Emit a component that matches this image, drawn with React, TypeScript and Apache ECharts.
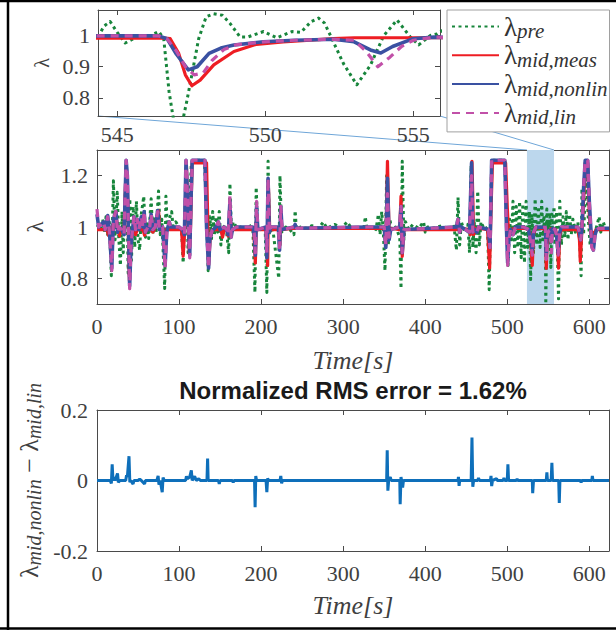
import React, { useEffect, useRef } from "react";
import * as echarts from "echarts";

// ---------- axis ranges and ticks ----------
const TIME_RANGE = [0, 624];
const TIME_TICKS = [0, 100, 200, 300, 400, 500, 600];
const MAIN_Y_RANGE = [0.7, 1.3];
const MAIN_Y_TICKS = [0.8, 1, 1.2];
const INSET_X_RANGE = [544.35, 555.9];
const INSET_X_TICKS = [545, 550, 555];
const INSET_Y_RANGE = [0.742, 1.082];
const INSET_Y_TICKS = [0.8, 0.9, 1];
const ERR_Y_RANGE = [-0.2, 0.2];
const ERR_Y_TICKS = [-0.2, 0, 0.2];
const ZOOM_WINDOW = [524, 557];

const SERIES_NAMES = ["λ_pre", "λ_mid,meas", "λ_mid,nonlin", "λ_mid,lin"];
const TITLE = "Normalized RMS error = 1.62%";
const X_NAME = "Time[s]";

// ---------- data: [time (s), lambda] ----------
const lambdaPre = [
  [0, 1.0], [3, 1.01], [5, 0.99], [7, 1.03], [9, 0.98], [11, 1.04], [13, 0.97], [15, 1.02],
  [17.5, 0.81], [20, 1.18], [22, 0.95], [24.7, 1.135], [26.5, 0.96], [28.5, 0.85], [30.5, 1.06],
  [32, 0.9], [34, 1.09], [36, 1.24], [38, 0.82], [40, 1.11], [42, 0.87], [44, 1.08], [46, 0.92],
  [48, 1.1], [50, 0.95], [52, 0.91], [54, 1.05], [57, 1.12], [59, 0.96], [61, 1.02], [63, 0.955],
  [66, 1.11], [68, 0.97], [70, 1.04], [72, 0.98], [75, 1.14], [77, 0.97], [79, 1.03], [82.5, 0.76],
  [84, 1.12], [86, 0.98], [88, 1.03], [91, 1.06], [93, 0.99], [96, 1.02], [100, 1.0], [103, 0.99],
  [105, 0.86], [107, 1.03], [109, 1.24], [111, 0.9], [113, 1.1], [115, 1.25], [118, 1.26],
  [125, 1.26], [131, 1.26], [133, 1.1], [135.5, 0.83], [137.5, 1.04], [139.5, 0.95], [141, 1.06],
  [143, 0.97], [145, 1.04], [147, 0.98], [149, 1.06], [151, 0.93], [153, 0.99], [156, 1.01],
  [158, 0.98], [160.5, 0.9], [162, 1.17], [164, 0.97], [166, 1.02], [170, 1.0], [175, 1.0],
  [180, 0.99], [185, 1.01], [190, 0.99], [192.5, 0.745], [194, 1.155], [196, 0.98], [200, 1.0],
  [205, 0.99], [207, 0.745], [208.5, 1.256], [210, 0.97], [214, 1.0], [221.5, 0.8], [223, 1.2],
  [225, 0.98], [230, 1.0], [235, 0.99], [240, 0.97], [241.5, 1.064], [243, 0.99], [248, 1.0],
  [255, 0.995], [262, 1.005], [270, 0.995], [276, 1.02], [280, 0.995], [290, 1.01], [298, 0.995],
  [305, 1.02], [310, 0.995], [318, 1.0], [325, 0.99], [327, 1.04], [329, 0.99], [335, 1.0],
  [340, 0.99], [343, 1.05], [345, 0.97], [347, 1.06], [349, 0.98], [351, 0.83], [353, 1.2],
  [355, 0.93], [357, 1.03], [359, 0.99], [364, 1.0], [369, 0.96], [370.5, 0.76], [372, 1.256],
  [374, 0.95], [376, 1.02], [380, 0.99], [385, 1.01], [392, 0.995], [398, 1.02], [400, 0.98],
  [403, 1.0], [410, 0.995], [420, 1.005], [430, 0.99], [435, 1.01], [438, 0.91], [440, 1.115],
  [442, 0.93], [444, 1.02], [447, 0.99], [452, 1.01], [454, 0.9], [456, 1.24], [458, 0.92],
  [460, 1.02], [462, 0.9], [464, 1.14], [466, 0.93], [468, 1.02], [472, 0.99], [476, 1.0],
  [478, 0.756], [481, 1.25], [483, 1.26], [497, 1.26], [499, 1.05], [501, 0.85], [503, 1.03],
  [505, 0.95], [507, 1.1], [509, 0.9], [511, 1.08], [513, 0.92], [515, 1.1], [517, 0.88],
  [519, 1.09], [521, 0.86], [523, 1.1], [525, 0.92], [527, 1.06], [528.5, 0.795], [530, 1.05],
  [532, 0.9], [534, 1.11], [536, 0.93], [538, 1.08], [540, 0.92], [542, 1.1], [543.5, 0.95],
  [544.36, 0.997], [544.55, 1.03], [544.76, 1.045], [545.0, 1.01], [545.27, 0.976], [545.55, 0.99],
  [545.83, 1.0], [546.05, 0.996], [546.4, 1.013], [546.57, 0.99], [546.75, 0.82], [546.95, 0.7],
  [547.15, 0.7], [547.35, 0.79], [547.52, 0.874], [547.75, 0.99], [548.0, 1.06], [548.25, 1.07],
  [548.55, 1.065], [548.8, 1.04], [549.15, 0.995], [549.4, 0.995], [549.94, 1.013], [550.39, 0.993],
  [550.9, 1.013], [551.2, 1.01], [551.55, 1.045], [551.8, 1.056], [552.0, 1.04], [552.2, 1.0],
  [552.64, 0.91], [553.09, 0.842], [553.55, 0.905], [554.0, 1.0], [554.45, 1.05], [554.9, 0.995],
  [555.18, 0.97], [555.57, 1.0], [555.8, 1.005], [557, 1.08], [558, 0.93], [560, 1.06],
  [562.5, 0.72], [564, 1.1], [566, 0.93], [568, 1.04], [570, 0.96], [572, 1.06], [574, 0.95],
  [576, 1.05], [578, 0.97], [580, 1.03], [583, 0.98], [586, 1.02], [588, 0.96], [590, 0.81],
  [591, 1.15], [593, 0.97], [596, 1.2], [599, 1.02], [601, 0.93], [603, 0.97], [605, 0.96],
  [608, 0.99], [612, 1.04], [614, 0.98], [617, 1.02], [620, 0.99], [624, 1.0],
];

const lambdaMeas = [
  [0, 0.99], [12, 0.99], [14, 0.968], [16, 0.99], [18, 1.0], [20, 0.99], [21.5, 1.045], [23, 1.06],
  [25, 0.99], [27.5, 0.965], [29, 0.99], [33, 0.985], [35.5, 1.24], [37, 1.15], [39.5, 0.79],
  [41, 0.95], [43, 0.99], [45, 1.0], [47, 0.97], [49, 0.99], [56, 0.99], [58, 0.968], [60, 0.99],
  [66, 0.99], [68, 0.98], [70, 0.99], [73, 1.04], [75, 1.064], [76.5, 0.99], [80, 0.99],
  [82.5, 0.94], [84, 0.99], [103, 0.99], [105, 0.886], [107, 0.99], [109, 1.24], [111, 1.05],
  [112.5, 0.9], [114, 1.0], [116, 1.25], [133.5, 1.25], [134.8, 1.05], [136, 0.85], [138, 0.96],
  [141, 0.99], [151, 0.99], [153, 0.96], [155, 0.99], [158, 0.99], [160, 0.965], [162, 1.06],
  [163.5, 0.98], [166, 0.99], [191, 0.99], [193, 0.86], [194.5, 1.05], [196, 0.99], [206, 0.99],
  [208, 0.85], [209, 1.15], [210.5, 0.99], [221, 0.99], [223, 0.93], [224, 1.05], [225.5, 0.99],
  [240, 0.995], [350, 0.995], [352, 0.93], [354, 1.256], [356, 0.97], [358, 0.995], [369, 0.99],
  [370.5, 1.12], [372, 0.885], [374, 0.99], [438, 0.99], [440, 1.02], [442, 0.98], [444, 0.995],
  [454, 0.99], [455, 0.97], [457, 1.256], [459, 0.97], [461, 0.995], [463, 0.98], [465, 0.995],
  [476, 0.99], [478.5, 0.84], [480.5, 1.1], [482, 1.25], [498, 1.25], [500, 1.08], [502, 0.95],
  [504, 0.99], [510, 0.995], [520, 0.995], [526, 0.99], [528, 0.97], [530.5, 0.85], [532, 0.97],
  [534, 0.99], [536, 1.0], [540, 0.995], [544.36, 0.992], [546.6, 0.992], [546.79, 0.99],
  [547.07, 0.944], [547.3, 0.874], [547.52, 0.839], [547.8, 0.857], [548.26, 0.906],
  [548.94, 0.949], [549.7, 0.972], [550.6, 0.98], [552.3, 0.99], [553, 0.993], [556, 0.993],
  [559, 0.99], [561, 0.95], [562.5, 0.84], [564, 0.97], [566, 0.99], [586, 0.99], [588, 0.95],
  [589, 0.866], [591, 0.99], [593, 1.1], [595, 1.25], [598, 1.25], [600, 1.05], [602, 0.97],
  [604, 0.98], [606, 0.96], [608, 0.99], [624, 0.99],
];

const lambdaNonlin = [
  [0, 1.05], [2, 1.0], [5, 1.01], [8, 1.02], [10, 0.99], [13, 1.045], [15, 0.99], [18, 0.84],
  [20, 1.03], [23, 1.06], [25, 0.98], [27, 1.0], [30, 0.99], [33, 0.97], [35.5, 1.26], [37, 1.2],
  [39.8, 0.77], [41.5, 0.93], [43, 0.98], [45, 1.04], [47, 0.99], [49, 1.03], [51, 0.99],
  [54, 1.04], [56, 1.0], [57.5, 1.06], [59, 0.98], [62, 1.0], [64, 0.99], [66, 1.05], [68, 0.99],
  [71, 1.0], [74, 1.064], [76, 0.99], [80, 1.0], [83, 0.85], [85, 0.98], [88, 1.02], [90, 1.0],
  [100, 1.0], [104, 0.99], [106.5, 0.97], [108.5, 1.26], [110.5, 1.1], [113, 0.89], [114.5, 1.1],
  [116, 1.26], [131.5, 1.26], [133.5, 1.0], [136, 0.84], [137.5, 0.95], [140, 0.985], [145, 1.0],
  [148, 1.02], [150, 0.99], [155, 1.0], [158, 0.99], [160, 0.97], [162, 1.1], [163.5, 0.96],
  [165, 0.99], [170, 1.0], [190, 1.0], [192, 0.96], [193, 0.89], [194.5, 1.08], [196, 0.99],
  [206, 1.0], [207, 0.88], [208.5, 1.19], [210, 0.98], [212, 1.0], [221, 1.0], [222.5, 0.91],
  [224, 1.08], [225.5, 0.99], [240, 1.0], [241.5, 1.01], [243, 0.995], [330, 1.0], [350, 1.0],
  [352, 0.92], [354, 1.19], [356, 0.95], [358, 0.99], [369, 1.0], [370.5, 1.08], [372, 0.9],
  [374, 0.99], [438, 1.0], [440, 1.03], [442, 0.98], [444, 1.0], [454, 0.98], [456.5, 1.25],
  [458, 0.98], [460, 0.99], [463, 0.98], [465, 1.0], [477, 0.99], [479, 0.92], [481, 1.26],
  [497, 1.26], [499, 1.0], [500.5, 0.86], [502, 0.95], [504, 0.99], [507, 0.97], [510, 1.0],
  [520, 1.0], [526, 0.99], [528, 0.95], [530.5, 0.91], [532, 0.98], [535, 1.0], [540, 0.999],
  [544.36, 0.999], [546.4, 0.999], [546.68, 0.99], [547.0, 0.94], [547.4, 0.89], [547.7, 0.9],
  [548.1, 0.943], [548.5, 0.96], [548.94, 0.97], [549.94, 0.98], [551, 0.985], [552.3, 0.988],
  [553, 0.98], [553.55, 0.954], [553.9, 0.944], [554.3, 0.965], [555, 0.99], [555.7, 0.995],
  [558, 0.99], [560, 0.97], [562, 0.9], [564, 0.98], [566, 1.0], [586, 1.0], [588, 0.98],
  [589.5, 0.95], [591, 0.99], [593, 1.15], [595, 1.26], [598, 1.26], [600, 1.1], [603, 0.93],
  [605, 0.91], [607, 0.97], [609, 0.99], [612, 0.995], [624, 0.995],
];

const lambdaLin = [
  [0, 1.07], [2, 1.0], [5, 1.01], [8, 1.02], [10, 0.99], [13, 1.04], [15, 0.99], [18, 0.83],
  [20, 1.03], [23, 1.06], [25, 0.98], [27, 1.0], [30, 0.99], [33, 0.97], [35.5, 1.26], [37, 1.2],
  [39.8, 0.76], [41.5, 0.93], [43, 0.98], [45, 1.04], [47, 0.99], [49, 1.03], [51, 0.99],
  [54, 1.04], [56, 1.0], [57.5, 1.06], [59, 0.98], [62, 1.0], [64, 0.99], [66, 1.05], [68, 0.99],
  [71, 1.0], [74, 1.06], [76, 0.99], [80, 1.0], [83, 0.84], [85, 0.98], [88, 1.02], [90, 1.0],
  [100, 1.0], [104, 0.99], [106.5, 0.97], [108.5, 1.26], [110.5, 1.1], [113, 0.88], [114.5, 1.1],
  [116, 1.26], [131.5, 1.26], [133.5, 1.0], [136, 0.84], [137.5, 0.95], [140, 0.985], [145, 1.0],
  [148, 1.02], [150, 0.99], [155, 1.0], [158, 0.99], [160, 0.97], [162, 1.12], [163.5, 0.96],
  [165, 0.99], [170, 1.0], [190, 1.0], [192, 0.97], [193, 0.9], [194.5, 1.1], [196, 0.99],
  [206, 1.0], [207, 0.9], [208.5, 1.19], [210, 0.98], [212, 1.0], [221, 1.0], [222.5, 0.92],
  [224, 1.08], [225.5, 0.99], [240, 1.0], [241.5, 1.01], [243, 0.995], [330, 1.0], [350, 1.0],
  [352, 0.93], [354, 1.13], [356, 0.96], [358, 0.99], [369, 1.0], [370.5, 1.08], [372, 0.9],
  [374, 0.99], [438, 1.0], [440, 1.03], [442, 0.98], [444, 1.0], [454, 0.98], [456.5, 1.2],
  [458, 0.98], [460, 0.99], [463, 0.98], [465, 1.0], [477, 0.99], [479, 0.92], [481, 1.26],
  [497, 1.26], [499, 1.0], [500.5, 0.85], [502, 0.95], [504, 0.99], [507, 0.97], [510, 1.0],
  [520, 1.0], [526, 0.99], [528, 0.95], [530.5, 0.89], [532, 0.98], [535, 1.0], [540, 0.999],
  [544.36, 0.999], [546.4, 0.999], [546.68, 0.99], [547.0, 0.95], [547.3, 0.9], [547.6, 0.874],
  [547.9, 0.88], [548.2, 0.92], [548.6, 0.955], [549, 0.97], [549.94, 0.98], [551, 0.985],
  [552.3, 0.988], [553, 0.985], [553.4, 0.95], [553.8, 0.9], [554.2, 0.93], [554.6, 0.965],
  [555, 0.985], [555.7, 0.995], [558, 0.99], [560, 0.97], [562, 0.89], [564, 0.98], [566, 1.0],
  [586, 1.0], [588, 0.98], [589.5, 0.95], [591, 0.99], [593, 1.15], [595, 1.26], [598, 1.26],
  [600, 1.1], [603, 0.92], [605, 0.91], [607, 0.97], [609, 0.99], [612, 0.995], [624, 0.995],
];

// [time (s), lambda_nonlin - lambda_lin]
const errorNonlinLin = [
  [0, 0], [16, 0], [17.5, -0.008], [18.5, 0.046], [19.5, 0], [21, 0.01], [22, 0], [25, 0.02],
  [26, -0.005], [28, 0], [35, 0], [36, 0.015], [37, 0.01], [39, 0.069], [40, -0.005], [41, 0],
  [44, -0.01], [45, 0], [50, 0], [52, 0.004], [54, 0], [58, -0.01], [59, 0], [73, 0],
  [74.5, 0.013], [75.5, -0.012], [77, 0], [79.5, -0.033], [80.5, 0.008], [82, 0], [108, 0],
  [109, 0.012], [110, 0.005], [113, 0.01], [115, 0.029], [116, 0], [119, 0.012], [121, 0],
  [124, 0.005], [126, 0], [134, 0], [134.8, 0.062], [135.5, 0], [148, 0], [149, -0.01], [150, 0],
  [165, 0], [166, -0.005], [167, 0], [192, 0], [192.7, -0.076], [193.5, 0.013], [194.5, 0],
  [206, 0], [207, -0.033], [208, 0.006], [209, 0], [223, 0], [224, 0.013], [225, -0.008],
  [226, 0], [353, 0], [353.7, 0.086], [354.5, -0.029], [355.5, 0], [357.5, 0.01], [358.5, 0],
  [369, 0], [369.5, -0.067], [370.5, 0.01], [372.5, -0.02], [373.5, 0], [440, 0], [440.5, 0.01],
  [441.3, -0.015], [442, 0], [456, 0], [457, 0.122], [458, -0.018], [459, 0], [464, 0],
  [465, 0.007], [466, 0], [479.5, 0], [480.2, 0.013], [481, -0.016], [482, 0], [487, 0.005],
  [488, 0], [495, 0], [496, 0.007], [497, 0], [500, 0], [500.8, 0.046], [501.6, 0], [511, 0],
  [512, 0.004], [513, 0], [530.5, 0], [531, -0.036], [532, 0], [547.5, 0], [548.3, 0.023],
  [549, 0], [553.5, 0], [554.4, 0.05], [555.2, 0], [562.7, 0], [563.4, -0.064], [564.2, 0],
  [589, 0], [590, -0.005], [591, 0], [603, 0], [603.7, 0.013], [604.5, 0], [624, 0],
];

const LAMBDA_DATA = [lambdaPre, lambdaMeas, lambdaNonlin, lambdaLin];

// ---------- styles ----------
const LINE_COLORS = ["#17853b", "#ee1d23", "#3a51a2", "#c150a8"];
const LINE_WIDTHS = [3, 3.2, 3.6, 3.2];
const LINE_TYPES: any[] = [[3, 3.5], "solid", "solid", [8, 6]];
const ERR_COLOR = "#0e6fba";
const AXIS_COLOR = "#4a4a4a";
const TEXT_COLOR = "#404040";
const SERIF = "Liberation Serif";
const SANS = "Liberation Sans";

const fmt = (v: number) => String(Math.round(v * 10) / 10);

function xAxes(gridIndex: number, range: number[], ticks: number[], labelMargin: number, name?: string, nameGap?: number) {
  const common: any = {
    type: "value",
    gridIndex,
    min: range[0],
    max: range[1],
    splitLine: { show: false },
    axisLine: { show: true, onZero: false, lineStyle: { color: AXIS_COLOR, width: 1 } },
    axisTick: { show: true, inside: true, length: 5, customValues: ticks, lineStyle: { color: AXIS_COLOR } },
  };
  return [
    {
      ...common,
      position: "bottom",
      axisLabel: { customValues: ticks, formatter: fmt, margin: labelMargin, color: TEXT_COLOR, fontFamily: SERIF, fontSize: 22 },
      name: name || "",
      nameLocation: "middle",
      nameGap: nameGap || 0,
      nameTextStyle: { fontFamily: SERIF, fontStyle: "italic", fontSize: 26, color: TEXT_COLOR },
    },
    { ...common, position: "top", axisLabel: { show: false } },
  ];
}

function yAxes(gridIndex: number, range: number[], ticks: number[], labelMargin: number, name?: string, nameGap?: number, nameSize?: number) {
  const common: any = {
    type: "value",
    gridIndex,
    min: range[0],
    max: range[1],
    splitLine: { show: false },
    axisLine: { show: true, onZero: false, lineStyle: { color: AXIS_COLOR, width: 1 } },
    axisTick: { show: true, inside: true, length: 5, customValues: ticks, lineStyle: { color: AXIS_COLOR } },
  };
  return [
    {
      ...common,
      position: "left",
      axisLabel: { customValues: ticks, formatter: fmt, margin: labelMargin, color: TEXT_COLOR, fontFamily: SERIF, fontSize: 22 },
      name: name || "",
      nameLocation: "middle",
      nameGap: nameGap || 0,
      nameTextStyle: { fontFamily: SERIF, fontSize: nameSize || 22, color: TEXT_COLOR },
    },
    { ...common, position: "right", axisLabel: { show: false } },
  ];
}

export default function App() {
  const ref = useRef<HTMLDivElement>(null);

  useEffect(() => {
    if (!ref.current) return;
    const chart = echarts.init(ref.current, undefined, { renderer: "svg" });

    const lambdaSeries = (axisIdx: number, withArea: boolean) =>
      LAMBDA_DATA.map((data, i) => ({
        type: "line",
        name: SERIES_NAMES[i],
        xAxisIndex: axisIdx,
        yAxisIndex: axisIdx,
        data,
        symbol: "none",
        showSymbol: false,
        silent: true,
        clip: true,
        z: 2 + i,
        lineStyle: { color: LINE_COLORS[i], width: LINE_WIDTHS[i], type: LINE_TYPES[i], cap: "butt", join: "round" },
        itemStyle: { color: LINE_COLORS[i] },
        ...(withArea && i === 0
          ? {
              markArea: {
                silent: true,
                z: 1,
                itemStyle: { color: "#bcd7ed", opacity: 1 },
                data: [[{ xAxis: ZOOM_WINDOW[0] }, { xAxis: ZOOM_WINDOW[1] }]],
              },
            }
          : {}),
      }));

    const option: any = {
      animation: false,
      backgroundColor: "#ffffff",
      textStyle: { fontFamily: SERIF },
      grid: [
        { left: 98, top: 10, width: 342, height: 106 },
        { left: 97, top: 150, width: 512, height: 154 },
        { left: 97, top: 410, width: 512, height: 141 },
      ],
      xAxis: [
        ...xAxes(0, INSET_X_RANGE, INSET_X_TICKS, 7),
        ...xAxes(1, TIME_RANGE, TIME_TICKS, 11, X_NAME, 43),
        ...xAxes(2, TIME_RANGE, TIME_TICKS, 11, X_NAME, 41),
      ],
      yAxis: [
        ...yAxes(0, INSET_Y_RANGE, INSET_Y_TICKS, 8, "λ", 44, 20),
        ...yAxes(1, MAIN_Y_RANGE, MAIN_Y_TICKS, 9, "λ", 50, 23),
        ...yAxes(2, ERR_Y_RANGE, ERR_Y_TICKS, 9),
      ],
      legend: {
        data: SERIES_NAMES,
        orient: "vertical",
        left: 447,
        top: 10,
        padding: [3, 2, 4, 4],
        itemGap: 0.3,
        itemWidth: 47,
        itemHeight: 14,
        backgroundColor: "#ffffff",
        borderColor: "#a0a0a0",
        borderWidth: 1,
        borderRadius: 0,
        selectedMode: false,
        itemStyle: { opacity: 0 },
        formatter: (name: string) => `{l|λ}{s|${name.split("_")[1]}}`,
        textStyle: {
          fontFamily: SERIF,
          rich: {
            l: { fontFamily: SERIF, fontSize: 27, lineHeight: 30, verticalAlign: "middle", color: "#333" },
            s: { fontFamily: SERIF, fontStyle: "italic", fontSize: 21, lineHeight: 20, verticalAlign: "bottom", color: "#333" },
          },
        },
      },
      series: [
        ...lambdaSeries(0, false),
        ...lambdaSeries(2, true),
        {
          type: "line",
          name: "error",
          xAxisIndex: 4,
          yAxisIndex: 4,
          data: errorNonlinLin,
          symbol: "none",
          showSymbol: false,
          silent: true,
          lineStyle: { color: ERR_COLOR, width: 3 },
        },
      ],
    };

    chart.setOption(option);

    const insetBL = chart.convertToPixel({ xAxisIndex: 0, yAxisIndex: 0 }, [INSET_X_RANGE[0], INSET_Y_RANGE[0]]);
    const insetBR = chart.convertToPixel({ xAxisIndex: 0, yAxisIndex: 0 }, [INSET_X_RANGE[1], INSET_Y_RANGE[0]]);
    const zoomTL = chart.convertToPixel({ xAxisIndex: 2, yAxisIndex: 2 }, [ZOOM_WINDOW[0], MAIN_Y_RANGE[1]]);
    const zoomTR = chart.convertToPixel({ xAxisIndex: 2, yAxisIndex: 2 }, [ZOOM_WINDOW[1], MAIN_Y_RANGE[1]]);
    const errL = chart.convertToPixel({ xAxisIndex: 4, yAxisIndex: 4 }, [TIME_RANGE[0], 0]);
    const errR = chart.convertToPixel({ xAxisIndex: 4, yAxisIndex: 4 }, [TIME_RANGE[1], 0]);
    const errTop = chart.convertToPixel({ xAxisIndex: 4, yAxisIndex: 4 }, [TIME_RANGE[0], ERR_Y_RANGE[1]]);
    const cx = (errL[0] + errR[0]) / 2;

    chart.setOption({
      graphic: [
        { type: "line", z: 0, shape: { x1: insetBL[0], y1: insetBL[1], x2: zoomTL[0], y2: zoomTL[1] }, style: { stroke: "#6fa6d8", lineWidth: 1 } },
        { type: "line", z: 0, shape: { x1: insetBR[0], y1: insetBR[1], x2: zoomTR[0], y2: zoomTR[1] }, style: { stroke: "#6fa6d8", lineWidth: 1 } },
        {
          type: "text",
          x: cx,
          y: errTop[1] - 20,
          style: { text: TITLE, align: "center", verticalAlign: "middle", fontFamily: SANS, fontWeight: "bold", fontSize: 24, fill: "#1a1a1a" },
        },
        {
          type: "text",
          x: 29,
          y: errL[1],
          rotation: Math.PI / 2,
          style: {
            text: "{l|λ}{s|mid,nonlin}{l| − λ}{s|mid,lin}",
            align: "center",
            verticalAlign: "middle",
            fontFamily: SERIF,
            fill: TEXT_COLOR,
            rich: {
              l: { fontFamily: SERIF, fontSize: 26, lineHeight: 30, verticalAlign: "middle", fill: TEXT_COLOR },
              s: { fontFamily: SERIF, fontStyle: "italic", fontSize: 20, lineHeight: 19, verticalAlign: "bottom", fill: TEXT_COLOR },
            },
          },
        },
        { type: "line", shape: { x1: 8, y1: 0, x2: 8, y2: 630 }, style: { stroke: "#000", lineWidth: 2.5 } },
        { type: "line", shape: { x1: 0, y1: 1, x2: 616, y2: 1 }, style: { stroke: "#000", lineWidth: 2.5 } },
        { type: "line", shape: { x1: 0, y1: 628.5, x2: 616, y2: 628.5 }, style: { stroke: "#000", lineWidth: 2.5 } },
      ],
    });

    return () => chart.dispose();
  }, []);

  return <div ref={ref} style={{ position: "absolute", left: 0, top: 0, width: 616, height: 630 }} />;
}
